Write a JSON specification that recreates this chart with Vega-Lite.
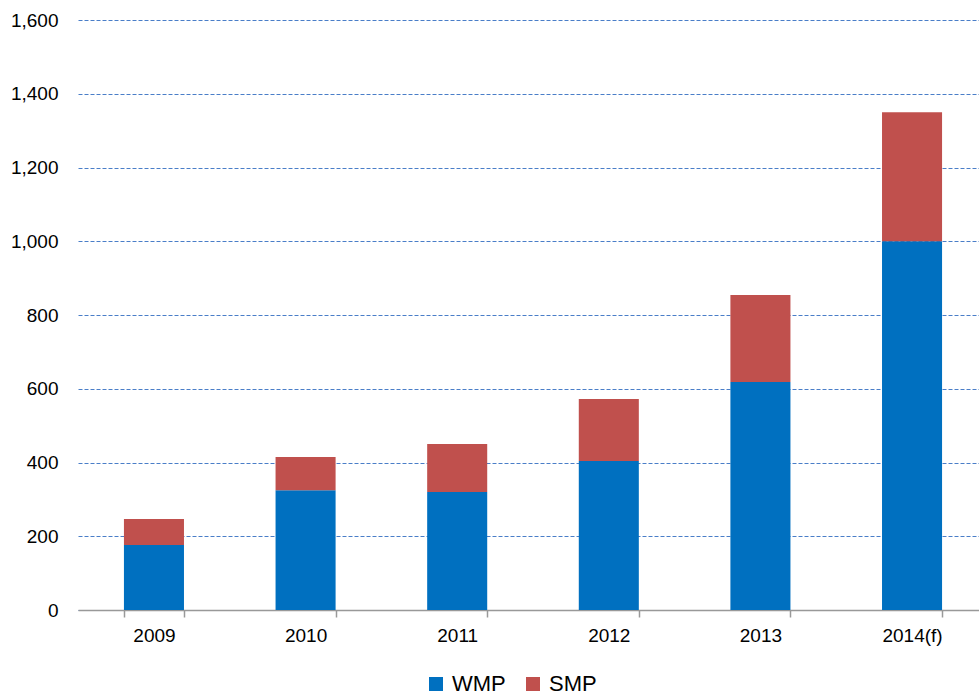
{
  "$schema": "https://vega.github.io/schema/vega-lite/v6.json",
  "width": 910,
  "height": 590,
  "autosize": "none",
  "padding": {"left": 78, "top": 20, "right": -9, "bottom": 85},
  "background": "white",
  "config": {
    "view": {"stroke": null},
    "font": "Liberation Sans"
  },
  "data": {
    "values": [
      {"year": "2009", "type": "WMP", "k": 0, "value": 176},
      {"year": "2009", "type": "SMP", "k": 1, "value": 71},
      {"year": "2010", "type": "WMP", "k": 0, "value": 325},
      {"year": "2010", "type": "SMP", "k": 1, "value": 90},
      {"year": "2011", "type": "WMP", "k": 0, "value": 320},
      {"year": "2011", "type": "SMP", "k": 1, "value": 130},
      {"year": "2012", "type": "WMP", "k": 0, "value": 404},
      {"year": "2012", "type": "SMP", "k": 1, "value": 168},
      {"year": "2013", "type": "WMP", "k": 0, "value": 618},
      {"year": "2013", "type": "SMP", "k": 1, "value": 236},
      {"year": "2014(f)", "type": "WMP", "k": 0, "value": 1000},
      {"year": "2014(f)", "type": "SMP", "k": 1, "value": 350}
    ]
  },
  "mark": {"type": "bar"},
  "encoding": {
    "x": {
      "field": "year",
      "type": "nominal",
      "sort": null,
      "scale": {"paddingInner": 0.604, "paddingOuter": 0.303},
      "axis": {
        "title": null,
        "labelAngle": 0,
        "labelFontSize": 19,
        "labelColor": "#000000",
        "labelPadding": 9,
        "domainColor": "#999999",
        "domainWidth": 1.5,
        "tickColor": "#999999",
        "tickWidth": 1.5,
        "tickSize": 7,
        "tickBand": "extent",
        "grid": false
      }
    },
    "y": {
      "field": "value",
      "type": "quantitative",
      "stack": "zero",
      "scale": {"domain": [0, 1600], "nice": false},
      "axis": {
        "title": null,
        "values": [0, 200, 400, 600, 800, 1000, 1200, 1400, 1600],
        "format": ",d",
        "labelFontSize": 19,
        "labelColor": "#000000",
        "labelPadding": 20,
        "ticks": false,
        "domain": false,
        "grid": true,
        "gridColor": "#4A7EC8",
        "gridDash": [4, 2],
        "gridWidth": 1
      }
    },
    "color": {
      "field": "type",
      "type": "nominal",
      "scale": {"domain": ["WMP", "SMP"], "range": ["#0070C0", "#C0504D"]},
      "legend": {
        "title": null,
        "orient": "none",
        "direction": "horizontal",
        "legendX": 347,
        "legendY": 653,
        "symbolType": "square",
        "symbolSize": 196,
        "symbolStrokeWidth": 0,
        "labelFontSize": 22,
        "labelColor": "#000000",
        "labelOffset": 5,
        "columnPadding": 16
      }
    },
    "order": {"field": "k", "type": "quantitative"}
  }
}
